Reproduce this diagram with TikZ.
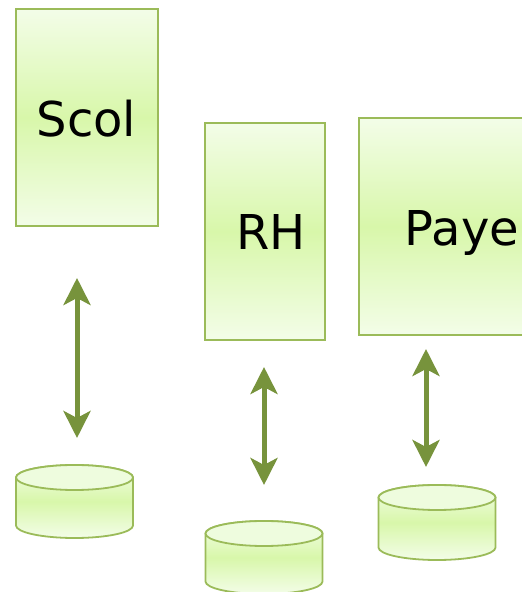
\documentclass[tikz,border=0pt]{standalone}
\usepackage{fontspec}
\setmainfont{DejaVu Sans}
\usetikzlibrary{arrows.meta}
\definecolor{bord}{HTML}{9BBB59}
\definecolor{arr}{HTML}{77933C}
\definecolor{lite}{HTML}{F3FDE8}
\definecolor{mid}{HTML}{D8F7AA}
\definecolor{capc}{HTML}{EEFCDE}
\tikzset{
  sysbox/.style={draw=bord, line width=1.4pt, top color=lite, bottom color=lite, middle color=mid},
  lbl/.style={font=\fontsize{48}{52}\selectfont, anchor=base, inner sep=0pt},
  dbl/.style={draw=arr, line width=5pt, {Stealth[length=27pt,width=27pt,inset=7pt]}-{Stealth[length=27pt,width=27pt,inset=7pt]}},
  cylbody/.style={draw=bord, line width=1.8pt, top color=lite, bottom color=lite, middle color=mid},
  cylcap/.style={draw=bord, line width=1.8pt, fill=capc}
}
\newcommand{\mycyl}[4]{% center x, top y, bottom y, rx
  \path[cylbody] (#1-#4,#2-12.5) -- (#1-#4,#3+12.5) arc[start angle=180,end angle=360,x radius=#4,y radius=12.5] -- (#1+#4,#2-12.5) arc[start angle=0,end angle=180,x radius=#4,y radius=12.5] -- cycle;
  \path[cylcap] (#1,#2-12.5) ellipse[x radius=#4,y radius=12.5];
}
\begin{document}
\begin{tikzpicture}[x=1pt,y=1pt]
\useasboundingbox (0,0) rectangle (522,592);
\clip (0,0) rectangle (522,592);
% boxes
\path[sysbox] (16,583) rectangle (158,366);
\path[sysbox] (205,469) rectangle (325,252);
\path[sysbox] (359,474) rectangle (562,257);
\node[lbl] (scoltxt) at (86.5,455) {Scol};
\node[lbl] (rhtxt) at (271,342) {RH};
\node[lbl] (payetxt) at (462,346) {Paye};
% arrows
\coordinate (a1t) at (77,314); \coordinate (a1b) at (77,154);
\coordinate (a2t) at (264,225); \coordinate (a2b) at (264,107);
\coordinate (a3t) at (426,243); \coordinate (a3b) at (426,125);
\draw[dbl] (a1t) -- (a1b);
\draw[dbl] (a2t) -- (a2b);
\draw[dbl] (a3t) -- (a3b);
% cylinders
\mycyl{74.5}{127}{54}{58.5}
\mycyl{264}{71}{-2}{58.5}
\mycyl{437}{107}{32}{58.5}
\end{tikzpicture}
\end{document}
